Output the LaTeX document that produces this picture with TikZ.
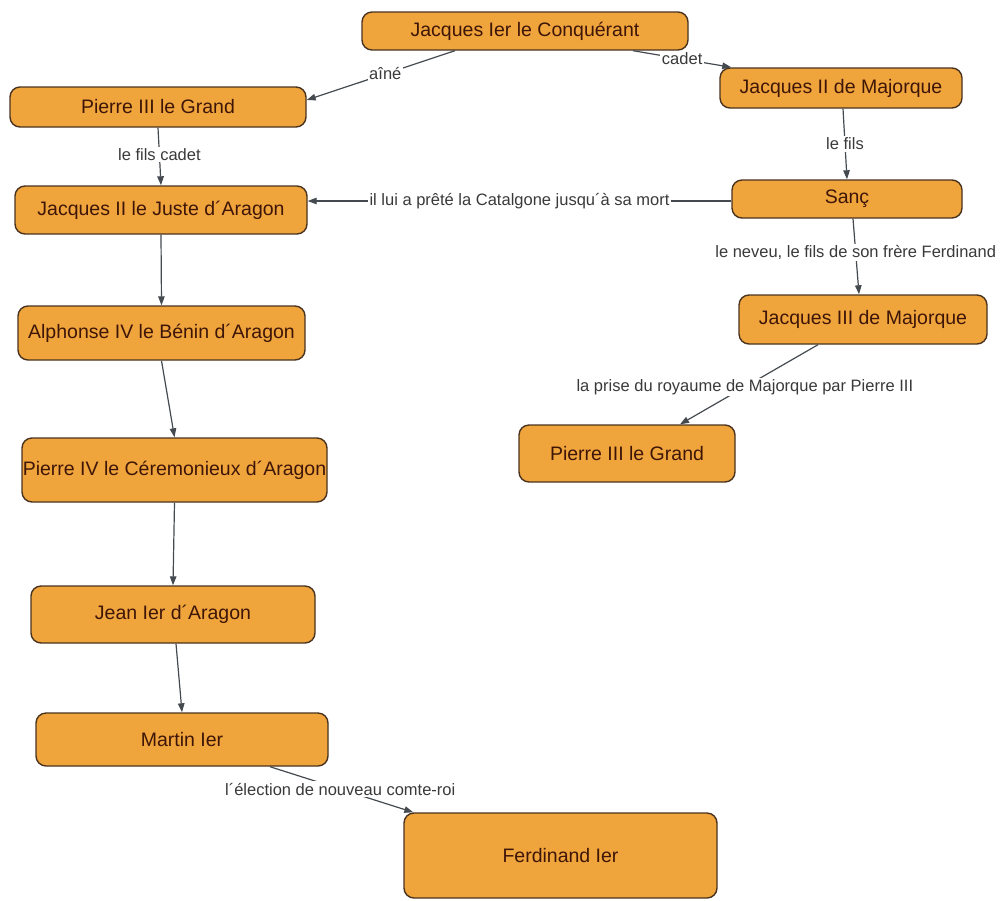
\documentclass[tikz,border=0pt]{standalone}
\usepackage{fontspec}
\setmainfont{Liberation Sans}
\usetikzlibrary{arrows.meta}
\definecolor{nodefill}{HTML}{F0A43C}
\definecolor{nodeborder}{HTML}{4A3420}
\definecolor{nodetext}{HTML}{3E1608}
\definecolor{edgecol}{HTML}{454A50}
\definecolor{lbltext}{HTML}{3A3A3A}
\begin{document}
\begin{tikzpicture}[x=1pt,y=-1pt,
  box/.style={draw=nodeborder, line width=1.4pt, fill=nodefill, rounded corners=10pt,
    text=nodetext, font=\fontsize{19.5}{21}\selectfont, inner sep=0pt, align=center},
  conn/.style={draw=edgecol, line width=1.2pt, -{Triangle[length=9pt,width=6.5pt]}},
  lbl/.style={fill=white, text=lbltext, font=\fontsize{16.5}{18}\selectfont, inner sep=1.5pt}]
\useasboundingbox (0,0) rectangle (1008,900);
\fill[white] (0,0) rectangle (1008,900);
% nodes
\node[box, minimum width=326pt, minimum height=38pt] (J1) at (525,31) {Jacques Ier le Conquérant};
\node[box, minimum width=296pt, minimum height=40pt] (P3L) at (158,107) {Pierre III le Grand};
\node[box, minimum width=242pt, minimum height=40pt] (J2M) at (841,88) {Jacques II de Majorque};
\node[box, minimum width=230pt, minimum height=38pt] (Sanc) at (847,199) {Sanç};
\node[box, minimum width=292pt, minimum height=48pt] (J2A) at (161,210) {Jacques II le Juste d´Aragon};
\node[box, minimum width=248pt, minimum height=49pt] (J3M) at (863,319.5) {Jacques III de Majorque};
\node[box, minimum width=287pt, minimum height=54pt] (A4) at (161.5,333) {Alphonse IV le Bénin d´Aragon};
\node[box, minimum width=216pt, minimum height=57pt] (P3R) at (627,453.5) {Pierre III le Grand};
\node[box, minimum width=305pt, minimum height=64pt] (P4) at (174.5,470) {Pierre IV le Céremonieux d´Aragon};
\node[box, minimum width=284pt, minimum height=57pt] (Jean) at (173,614.5) {Jean Ier d´Aragon};
\node[box, minimum width=292pt, minimum height=53pt] (Martin) at (182,739.5) {Martin Ier};
\node[box, minimum width=313pt, minimum height=85pt] (Ferd) at (560.5,855.5) {Ferdinand Ier};
% connectors
\draw[conn] ([xshift=-70pt]J1.south) -- node[lbl, pos=0.47] {aîné} ([yshift=7pt]P3L.east);
\draw[conn] ([xshift=108pt]J1.south) -- node[lbl, pos=0.5] {cadet} ([xshift=12pt]J2M.north west);
\draw[conn] ([xshift=2pt]J2M.south) -- node[lbl, pos=0.5] {le fils} (Sanc.north);
\draw[conn] (P3L.south) -- node[lbl, pos=0.47] {le fils cadet} (J2A.north);
\draw[conn] ([yshift=-2pt]Sanc.west) -- node[lbl, pos=0.5] {il lui a prêté la Catalgone jusqu´à sa mort} ([yshift=-2pt]Sanc.west -| J2A.east);
\draw[conn] ([xshift=6pt]Sanc.south) -- node[lbl, pos=0.45] {le neveu, le fils de son frère Ferdinand} ([xshift=-4pt]J3M.north);
\draw[conn] ([xshift=-45pt]J3M.south) -- node[lbl, pos=0.53] {la prise du royaume de Majorque par Pierre III} ([xshift=53pt]P3R.north);
\draw[conn] (J2A.south) -- (A4.north);
\draw[conn] (A4.south) -- (P4.north);
\draw[conn] (P4.south) -- (Jean.north);
\draw[conn] ([xshift=3pt]Jean.south) -- (Martin.north);
\draw[conn] ([xshift=88pt]Martin.south) -- node[lbl, pos=0.49] {l´élection de nouveau comte-roi} ([xshift=10pt]Ferd.north west);
\end{tikzpicture}
\end{document}
